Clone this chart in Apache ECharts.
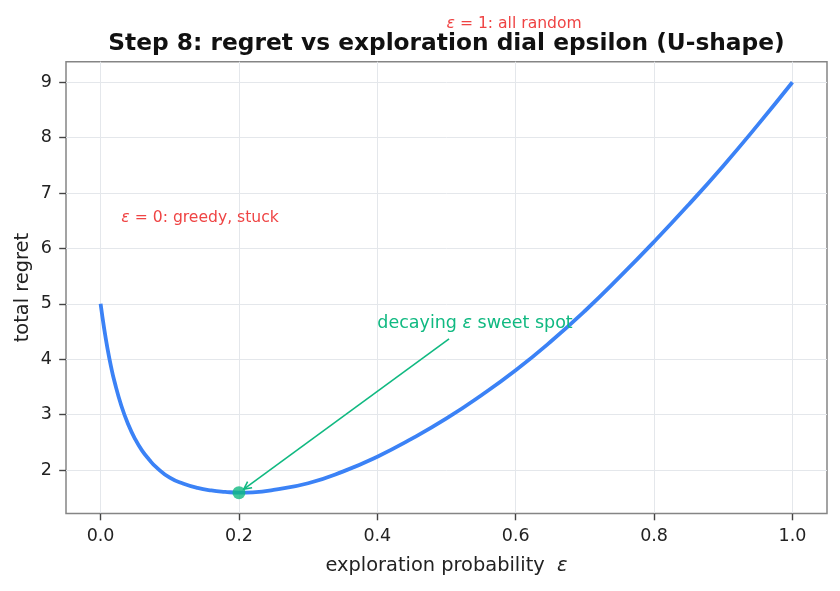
<!DOCTYPE html>
<html><head><meta charset="utf-8">
<script src="https://cdn.jsdelivr.net/npm/echarts@6/dist/echarts.min.js"></script>
<style>html,body{margin:0;padding:0;background:#fff}#c{width:840px;height:591px}</style>
</head><body><div id="c"></div>
<script>
// ---- data ----
const epsilon = [0, 0.005, 0.01, 0.015, 0.02, 0.03, 0.04, 0.05, 0.06, 0.07, 0.08, 0.1, 0.12, 0.14, 0.16, 0.18, 0.2, 0.22, 0.25, 0.3, 0.35, 0.4, 0.45, 0.5, 0.55, 0.6, 0.65, 0.7, 0.75, 0.8, 0.85, 0.9, 0.95, 1.0];
const regret  = [5.0, 4.565, 4.19, 3.87, 3.6, 3.16, 2.82, 2.555, 2.35, 2.19, 2.055, 1.86, 1.75, 1.675, 1.63, 1.605, 1.59, 1.597, 1.64, 1.76, 1.97, 2.24, 2.565, 2.93, 3.345, 3.80, 4.31, 4.87, 5.48, 6.12, 6.79, 7.49, 8.23, 9.0];
const sweetSpotX = [0.2];
const sweetSpotY = [1.59];
const xTicks = [0, 0.2, 0.4, 0.6, 0.8, 1.0];
const yTicks = [2, 3, 4, 5, 6, 7, 8, 9];
const titleText = 'Step 8: regret vs exploration dial epsilon (U-shape)';
const xName = 'exploration probability  ';
const yName = 'total regret';
const noteRandom = {x: 0.5, y: 10, pre: '', eps: 'ε', post: ' = 1: all random'};
const noteGreedy = {x: 0.03, y: 6.5, pre: '', eps: 'ε', post: ' = 0: greedy, stuck'};
const noteSweet  = {x: 0.4, y: 4.6, pre: 'decaying ', eps: 'ε', post: ' sweet spot'};

const FONT = '"DejaVu Sans", sans-serif';
const BLUE = '#3b82f6', GREEN = '#10b981', RED = '#ef4444';
const chart = echarts.init(document.getElementById('c'), null, {renderer: 'canvas'});

const option = {
  animation: false,
  backgroundColor: '#ffffff',
  grid: {left: 66, right: 13, top: 61.7, bottom: 77.5, show: true, borderColor: '#858585', borderWidth: 1.5, backgroundColor: 'transparent'},
  xAxis: {
    type: 'value', min: -0.05, max: 1.05,
    axisLine: {show: false, onZero: false},
    axisTick: {show: true, length: 6.8, lineStyle: {color: '#444', width: 1.4}, customValues: xTicks},
    axisLabel: {customValues: xTicks, formatter: v => v.toFixed(1), margin: 13.6, fontSize: 17.5, color: '#222', fontFamily: FONT},
    splitLine: {show: true, lineStyle: {color: '#e4e7eb', width: 1}}
  },
  yAxis: {
    type: 'value', min: 1.214, max: 9.371,
    axisLine: {show: false, onZero: false},
    axisTick: {show: true, length: 6.8, lineStyle: {color: '#444', width: 1.4}, customValues: yTicks},
    axisLabel: {customValues: yTicks, formatter: v => String(Math.round(v)), margin: 14, fontSize: 17.5, color: '#222', fontFamily: FONT},
    splitLine: {show: true, lineStyle: {color: '#e4e7eb', width: 1}}
  },
  series: [
    {type: 'line', data: epsilon.map((x, i) => [x, regret[i]]), showSymbol: false, smooth: 0.5,
     lineStyle: {color: BLUE, width: 3.8, join: 'round'}, z: 3},
    {type: 'scatter', data: sweetSpotX.map((x, i) => [x, sweetSpotY[i]]), symbolSize: 13,
     itemStyle: {color: GREEN}, z: 5}
  ]
};
chart.setOption(option);

// ---- annotations positioned through the chart's own scales ----
const ctx = document.createElement('canvas').getContext('2d');
function textW(s, size, italic) { ctx.font = (italic ? 'italic ' : '') + size + 'px ' + FONT; return ctx.measureText(s).width; }
const MID = 0.17;  // baseline -> drawn middle offset (em)
const MIDA = 0.346; // text-box centre used by the arrow
function note(n, size, color) {
  const p = chart.convertToPixel({gridIndex: 0}, [n.x, n.y]);
  return {type: 'text', x: p[0], y: p[1] - MID * size, z: 10,
    style: {text: n.pre + '{i|' + n.eps + '}' + n.post, fill: color, font: size + 'px ' + FONT,
      align: 'left', verticalAlign: 'middle',
      rich: {i: {fontStyle: 'italic', fontSize: size, fontFamily: FONT, fill: color}}}};
}
const g = [];
g.push({type: 'text', x: 446.5, y: 48 - MID * 23.3, z: 10,
  style: {text: titleText, fill: '#111', font: 'bold 23.3px ' + FONT, align: 'center', verticalAlign: 'middle'}});
g.push({type: 'text', x: 446.5, y: 566, z: 10,
  style: {text: xName + '{i|ε}', fill: '#222', font: '19.4px ' + FONT, align: 'center', verticalAlign: 'middle',
    rich: {i: {fontStyle: 'italic', fontSize: 19.4, fontFamily: FONT, fill: '#222'}}}});
g.push({type: 'text', x: 22.7, y: 287.6, rotation: Math.PI / 2, z: 10,
  style: {text: yName, fill: '#222', font: '19.4px ' + FONT, align: 'center', verticalAlign: 'middle'}});
g.push(note(noteRandom, 15.6, RED));
g.push(note(noteGreedy, 15.6, RED));
g.push(note(noteSweet, 17.5, GREEN));

// arrow from the sweet-spot text towards the marked point
const sw = 17.5;
const tw = textW(noteSweet.pre, sw) + textW(noteSweet.eps, sw, true) + textW(noteSweet.post, sw);
const tp = chart.convertToPixel({gridIndex: 0}, [noteSweet.x, noteSweet.y]);
const tc = [tp[0] + tw / 2, tp[1] - MIDA * sw];
const tgt = chart.convertToPixel({gridIndex: 0}, [sweetSpotX[0], sweetSpotY[0]]);
const dx = tc[0] - tgt[0], dy = tc[1] - tgt[1], L = Math.hypot(dx, dy);
const ux = dx / L, uy = dy / L;
const tip = [tgt[0] + 6 * ux, tgt[1] + 6 * uy];
const tStart = 19 / Math.abs(uy);
const start = [tc[0] - tStart * ux, tc[1] - tStart * uy];
const hl = 7.5, hw = 3.8, px_ = -uy, py_ = ux;
g.push({type: 'line', z: 9, shape: {x1: start[0], y1: start[1], x2: tip[0], y2: tip[1]},
  style: {stroke: GREEN, lineWidth: 1.6}});
g.push({type: 'polyline', z: 9, shape: {points: [
    [tip[0] + hl * ux + hw * px_, tip[1] + hl * uy + hw * py_], tip,
    [tip[0] + hl * ux - hw * px_, tip[1] + hl * uy - hw * py_]]},
  style: {stroke: GREEN, lineWidth: 1.6, fill: null}});
chart.setOption({graphic: g});
</script>
</body></html>
